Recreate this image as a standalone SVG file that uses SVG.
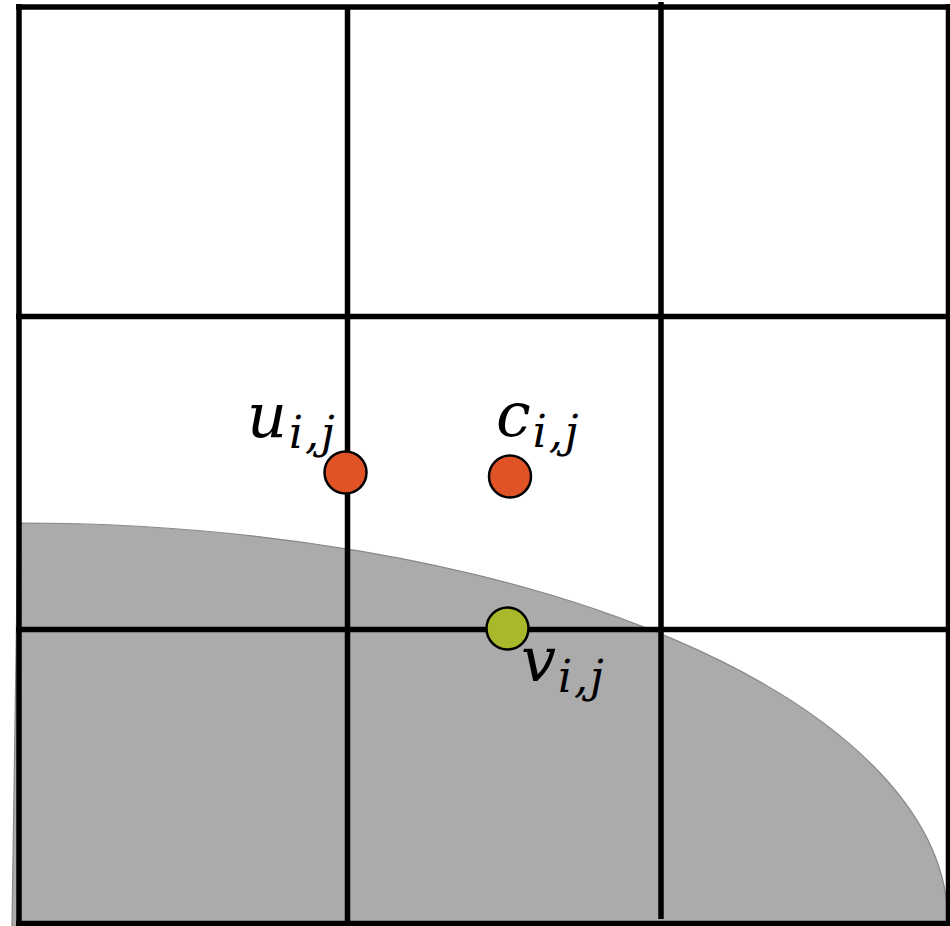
<svg xmlns="http://www.w3.org/2000/svg" width="950" height="926" viewBox="0 0 950 926">
<style>
.grid line{stroke:#000;stroke-width:5.5;stroke-linecap:butt}
.pt{stroke:#000;stroke-width:2.5}
.lbl{font-family:"DejaVu Serif","Liberation Serif",serif;font-style:italic;fill:#000}
.main{font-size:62px}
.sub{font-size:44px;letter-spacing:2px}
</style>
<rect width="950" height="926" fill="#fff"/>
<g id="region">
<path d="M18,523 A930,400 0 0 1 948,923 L948,924 L12,926 Z" fill="#ababab" stroke="#888" stroke-width="1.2"/>
</g>
<g id="grid" class="grid">
<line x1="19" y1="4" x2="19" y2="926"/>
<line x1="16" y1="7" x2="950" y2="7"/>
<line x1="948.5" y1="4" x2="948.5" y2="926"/>
<line x1="16" y1="923.5" x2="950" y2="923.5"/>
<line x1="347.5" y1="7" x2="347.5" y2="923"/>
<line x1="661" y1="2" x2="661" y2="919"/>
<line x1="16" y1="316.5" x2="950" y2="316.5"/>
<line x1="16" y1="629.5" x2="950" y2="629.5"/>
</g>
<g id="u">
<circle class="pt" cx="345.5" cy="472.5" r="21" fill="#e05326"/>
<text class="lbl" x="247" y="437"><tspan class="main">u</tspan><tspan class="sub" dx="2" dy="11">i,j</tspan></text>
</g>
<g id="c">
<circle class="pt" cx="510" cy="476.5" r="21" fill="#e05326"/>
<text class="lbl" x="496" y="436"><tspan class="main">c</tspan><tspan class="sub" dx="2" dy="11">i,j</tspan></text>
</g>
<g id="v">
<circle class="pt" cx="507.5" cy="628.5" r="21" fill="#a8b82a"/>
<text class="lbl" x="521" y="681"><tspan class="main">v</tspan><tspan class="sub" dx="2" dy="11">i,j</tspan></text>
</g>
</svg>
